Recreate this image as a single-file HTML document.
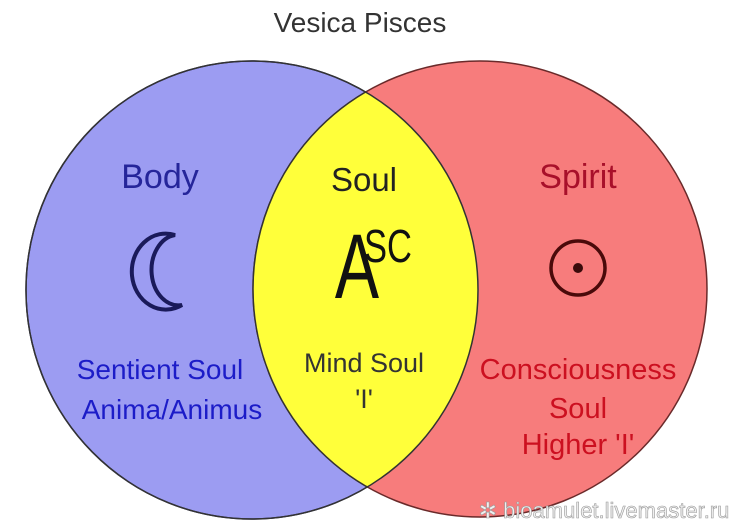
<!DOCTYPE html>
<html><head><meta charset="utf-8"><style>
html,body{margin:0;padding:0;background:#fff;}
svg{display:block}
text{font-family:"Liberation Sans",Arial,sans-serif;text-anchor:middle}
</style></head><body>
<svg width="736" height="530" viewBox="0 0 736 530">
<defs>
<clipPath id="cl"><ellipse cx="252" cy="290" rx="226" ry="229"/></clipPath>
</defs>
<ellipse cx="252" cy="290" rx="226" ry="229" fill="#9c9cf2" stroke="#33336a" stroke-width="1.5"/>
<ellipse cx="480" cy="289" rx="227" ry="228" fill="#f77c7c" stroke="#6a2a2a" stroke-width="1.5"/>
<ellipse cx="480" cy="289" rx="227" ry="228" fill="#ffff3a" clip-path="url(#cl)"/>
<ellipse cx="480" cy="289" rx="227" ry="228" fill="none" stroke="#333" stroke-width="1.5" clip-path="url(#cl)"/>
<ellipse cx="252" cy="290" rx="226" ry="229" fill="none" stroke="#333" stroke-width="1.5"/>
<text x="360" y="32" font-size="28" fill="#333">Vesica Pisces</text>
<text x="160" y="188" font-size="34" fill="#25259a">Body</text>
<text x="364" y="191" font-size="33" fill="#222">Soul</text>
<text x="578" y="188" font-size="34" fill="#a8102a">Spirit</text>
<path d="M175,235 A34,38 0 1 0 182,305 A26,34 0 1 1 175,235 Z" fill="none" stroke="#1a1a5a" stroke-width="4"/>
<text transform="translate(357,298) scale(0.72,1)" x="0" y="0" font-size="92" fill="#111">A</text>
<text transform="translate(388,262) scale(0.75,1)" x="0" y="0" font-size="46" fill="#111">SC</text>
<circle cx="578" cy="268" r="27" fill="none" stroke="#4a0a0a" stroke-width="3.5"/>
<circle cx="578" cy="268" r="5" fill="#3a0a0a"/>
<text x="160" y="379" font-size="28" fill="#1c1cc8">Sentient Soul</text>
<text x="172" y="419" font-size="28" fill="#1c1cc8">Anima/Animus</text>
<text x="364" y="372" font-size="27" fill="#333">Mind Soul</text>
<text x="364" y="408" font-size="27" fill="#333">'I'</text>
<text x="578" y="379" font-size="29" fill="#cc1020">Consciousness</text>
<text x="578" y="418" font-size="29" fill="#cc1020">Soul</text>
<text x="578" y="454" font-size="29" fill="#cc1020">Higher 'I'</text>
<text x="604" y="518" font-size="22" fill="#f0f0f0" stroke="#999" stroke-width="0.6">✲ bioamulet.livemaster.ru</text>
</svg>
</body></html>
